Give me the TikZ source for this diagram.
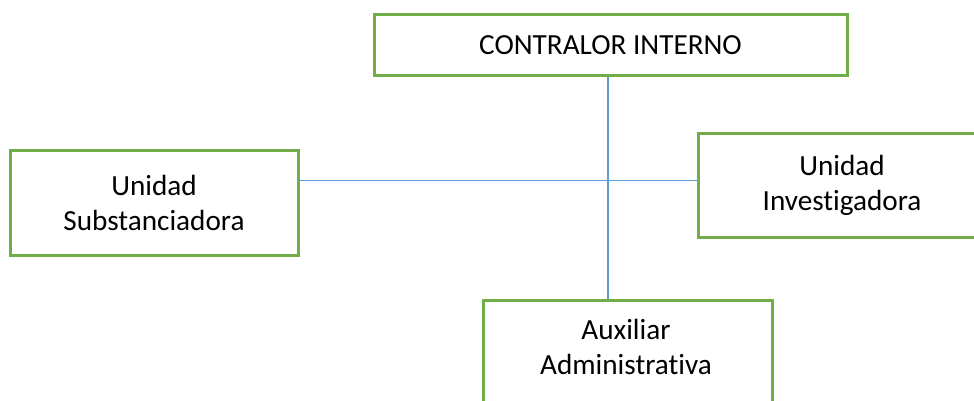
\documentclass[tikz,border=0pt]{standalone}
\usepackage{fontspec}
\setmainfont{Carlito}[Ligatures=NoCommon]
\definecolor{boxgreen}{HTML}{70AD47}
\definecolor{lineblue}{HTML}{5B9BD5}
\begin{document}
\begin{tikzpicture}[x=0.5pt,y=-0.5pt,
  orgbox/.style={draw=boxgreen, line width=1.5pt, fill=white, inner sep=0pt,
    align=center, font=\fontsize{14.6pt}{17.5pt}\selectfont},
  orgtext/.style={inner sep=0pt, align=center, font=\fontsize{14.6pt}{17.5pt}\selectfont},
  link/.style={draw=lineblue, line width=0.7pt}]
\useasboundingbox (0,0) rectangle (974,401);
\coordinate (hub) at (608,180.5);
\node[orgbox, minimum width=236.5pt, minimum height=30.5pt] (contralor) at (610.5,45.5) {CONTRALOR INTERNO};
\node[orgbox, minimum width=144pt, minimum height=52.5pt] (subst) at (154,203) {Unidad\\Substanciadora};
\node[orgbox, minimum width=144pt, minimum height=51.5pt] (invest) at (842,185.5) {Unidad\\Investigadora};
\node[orgbox, minimum width=144.5pt, minimum height=52.5pt] (aux) at (627.5,353) {};
\node[orgtext] (auxtext) at (626,347) {Auxiliar\\Administrativa};
\draw[link] (contralor.south -| hub) -- (aux.north -| hub);
\draw[link] (subst.east |- hub) -- (invest.west |- hub);
\end{tikzpicture}
\end{document}
